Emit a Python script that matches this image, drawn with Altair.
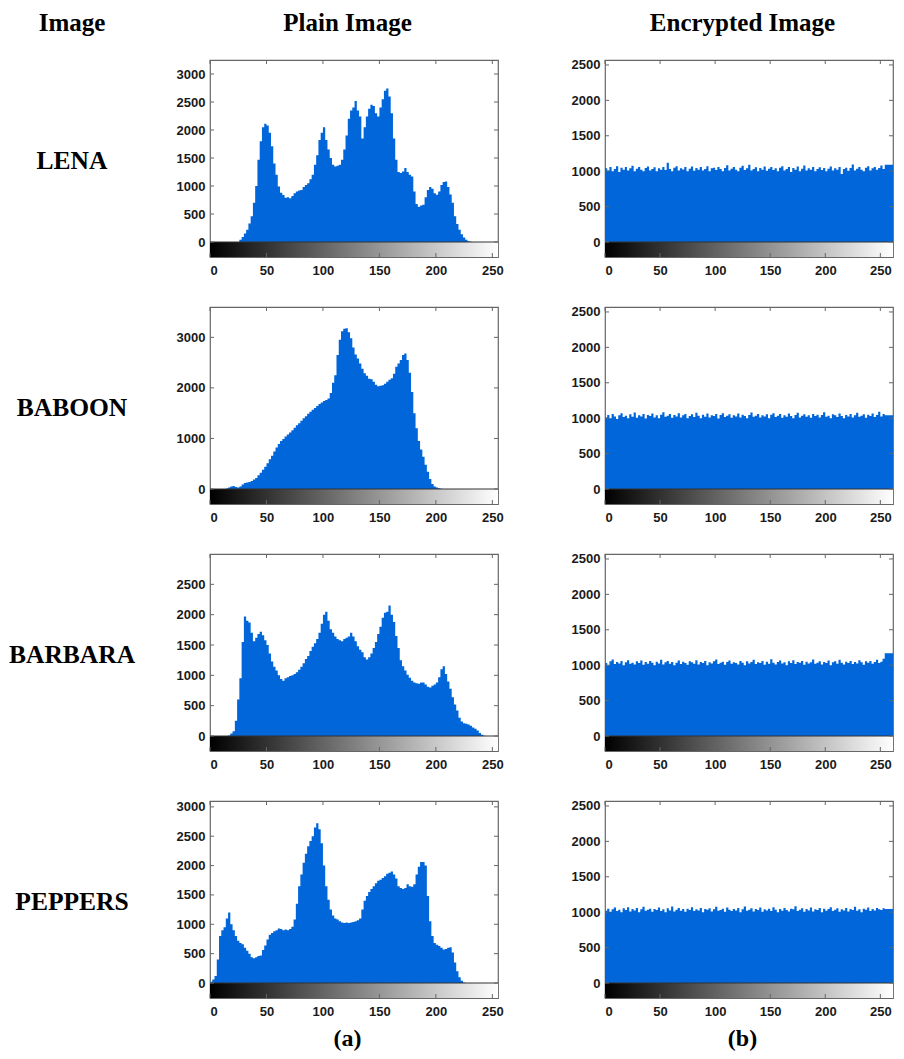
import altair as alt
import pandas as pd

NAMES = ["LENA", "BABOON", "BARBARA", "PEPPERS"]
HEADERS = ["Image", "Plain Image", "Encrypted Image"]
CAPTIONS = ["(a)", "(b)"]
X_TICKS = [0, 50, 100, 150, 200, 250]
BIN_WIDTH = 2

LENA_PLAIN = [0]*13 + [
    40, 90, 150, 220, 330, 460, 700, 1000, 1470, 1800, 2050, 2110, 2080, 1950, 1710, 1400, 1200, 990, 880, 840,
    790, 800, 780, 820, 870, 900, 920, 930, 980, 1020, 1050, 1120, 1200, 1380, 1550, 1820, 1950, 2050, 1820, 1650,
    1500, 1380, 1350, 1360, 1380, 1470, 1650, 1900, 2200, 2350, 2400, 2520, 2350, 2240, 1850, 2050, 2240, 2380, 2450, 2430,
    2300, 2240, 2400, 2550, 2700, 2740, 2600, 2300, 1850, 1470, 1250, 1230, 1260, 1320, 1250, 1200, 1170, 900, 680, 630,
    650, 665, 800, 930, 980, 950, 870, 845, 900, 1020, 1070, 1080, 980, 850, 700, 460, 320, 220, 140, 80,
    40, 15, 5] + [0]*12

BABOON_PLAIN = [0]*7 + [
    10, 30, 50, 60, 40, 30, 50, 90, 120, 130, 140, 160, 190, 220, 270, 320, 380, 440, 510, 590,
    660, 740, 820, 890, 950, 990, 1040, 1080, 1120, 1160, 1210, 1260, 1300, 1350, 1400, 1440, 1490, 1530, 1570, 1600,
    1640, 1680, 1710, 1740, 1760, 1790, 1900, 2100, 2250, 2650, 2950, 3120, 3170, 3180, 3100, 2980, 2800, 2660, 2580, 2480,
    2380, 2290, 2240, 2180, 2170, 2120, 2060, 2030, 2040, 2050, 2080, 2120, 2160, 2190, 2280, 2420, 2480, 2550, 2650, 2680,
    2550, 2300, 1920, 1500, 1200, 950, 780, 640, 480, 340, 200, 100, 50, 30, 15, 5] + [0]*25

BARBARA_PLAIN = [0]*8 + [
    10, 40, 80, 250, 600, 950, 1550, 1970, 1900, 1870, 1700, 1560, 1620, 1680, 1720, 1660, 1580, 1500, 1360, 1230,
    1140, 1080, 1000, 940, 910, 950, 970, 990, 1000, 1020, 1050, 1090, 1140, 1200, 1270, 1320, 1400, 1470, 1530, 1600,
    1700, 1850, 2000, 2050, 1900, 1760, 1700, 1640, 1600, 1580, 1560, 1600, 1620, 1640, 1700, 1640, 1560, 1480, 1420, 1380,
    1300, 1260, 1300, 1360, 1450, 1550, 1680, 1800, 1950, 2030, 2050, 2150, 2000, 1880, 1650, 1450, 1250, 1150, 1080, 1010,
    960, 910, 880, 870, 860, 880, 880, 850, 810, 800, 830, 850, 880, 970, 1100, 1150, 1020, 900, 780, 640,
    520, 420, 300, 240, 210, 200, 190, 170, 140, 120, 90, 50, 20, 5] + [0]*6

PEPPERS_PLAIN = [
    20, 60, 120, 400, 800, 900, 950, 1100, 1200, 1000, 900, 800, 720, 680, 660, 600, 550, 500, 440, 420,
    440, 460, 470, 560, 640, 740, 820, 850, 880, 900, 930, 920, 900, 910, 900, 920, 960, 1080, 1350, 1650,
    1850, 2050, 2200, 2330, 2420, 2500, 2650, 2720, 2620, 2380, 2000, 1650, 1420, 1250, 1150, 1100, 1080, 1050, 1030, 1020,
    1030, 1020, 1030, 1040, 1050, 1070, 1100, 1250, 1400, 1480, 1550, 1600, 1650, 1700, 1740, 1760, 1790, 1820, 1860, 1880,
    1900, 1850, 1780, 1650, 1620, 1600, 1620, 1680, 1650, 1640, 1680, 1850, 1980, 2060, 2060, 2000, 1480, 1050, 800, 680,
    650, 630, 600, 570, 580, 600, 610, 520, 350, 200, 100, 40, 10] + [0]*15

LENA_ENC = [
    1040, 1010, 1060, 1000, 1030, 1070, 990, 1050, 1020, 1060, 1010, 1040, 1075, 1000, 1035, 1060, 1020, 1000, 1045, 1065,
    1010, 1030, 1055, 1000, 1040, 1020, 1060, 1015, 1120, 1030, 1000, 1050, 1070, 1010, 1040, 1025, 1060, 1000, 1035, 1065,
    1005, 1045, 1020, 1060, 1010, 1030, 1070, 1000, 1040, 1050, 1015, 1060, 1030, 1000, 1045, 1085, 1010, 1035, 1060, 1020,
    1000, 1050, 1075, 1015, 1040, 1090, 1010, 1030, 1055, 1000, 1045, 1020, 1065, 1005, 1035, 1060, 1015, 1040, 1000, 1050,
    1070, 1010, 1030, 1060, 990, 1045, 1020, 1065, 1000, 1035, 1080, 1010, 1040, 1020, 1060, 1000, 1030, 1055, 1015, 1045,
    1000, 1035, 1065, 1010, 1040, 1020, 1060, 960, 1030, 1050, 1005, 1045, 1095, 1010, 1035, 1060, 1020, 1000, 1050, 1070,
    1010, 1040, 1060, 1020, 1045, 1080, 1030, 1090]

BABOON_ENC = [
    1010, 1045, 1000, 1060, 1025, 990, 1040, 1070, 1015, 1035, 1000, 1055, 1020, 1080, 1005, 1040, 1025, 1060, 995, 1045,
    1030, 1065, 1010, 1040, 1000, 1050, 1085, 1020, 1035, 1060, 1005, 1045, 1025, 1070, 1010, 1040, 1060, 1000, 1030, 1055,
    1015, 1075, 1035, 1000, 1050, 1020, 1065, 1010, 1040, 1030, 1060, 995, 1045, 1070, 1015, 1035, 1055, 1005, 1040, 1025,
    1065, 1010, 1050, 1030, 1000, 1045, 1080, 1020, 1035, 1060, 1010, 1040, 1025, 1055, 1000, 1050, 1070, 1015, 1035, 1060,
    1005, 1040, 1020, 1065, 1030, 1000, 1045, 1075, 1010, 1035, 1055, 1020, 1040, 1005, 1060, 1030, 1050, 1010, 1045, 1085,
    1020, 1035, 1000, 1055, 1040, 1015, 1065, 1030, 1000, 1045, 1025, 1060, 1010, 1040, 1075, 1020, 1035, 1055, 1005, 1050,
    1030, 1065, 1015, 1045, 1090, 1025, 1060, 1040]

BARBARA_ENC = [
    1030, 1000, 1055, 1080, 1015, 1045, 1025, 1060, 1000, 1040, 1070, 1020, 1035, 1010, 1055, 1030, 1065, 1005, 1045, 1020,
    1060, 1035, 1000, 1050, 1025, 1075, 1010, 1040, 1060, 1020, 1045, 1000, 1035, 1065, 1015, 1050, 1030, 1005, 1055, 1040,
    1020, 1070, 1010, 1045, 1030, 1060, 1000, 1040, 1025, 1055, 1080, 1015, 1035, 1050, 1005, 1045, 1065, 1020, 1040, 1030,
    1010, 1060, 1035, 1000, 1055, 1025, 1045, 1075, 1015, 1040, 1030, 1060, 1005, 1050, 1020, 1085, 1035, 1010, 1045, 1065,
    1025, 1040, 1000, 1055, 1030, 1070, 1015, 1045, 1035, 1060, 1005, 1050, 1025, 1040, 1080, 1020, 1035, 1055, 1010, 1045,
    1030, 1065, 1000, 1040, 1055, 1020, 1075, 1035, 1010, 1050, 1030, 1060, 1015, 1045, 1025, 1070, 1040, 1005, 1055, 1035,
    1060, 1020, 1045, 1075, 1030, 1050, 1090, 1170]

PEPPERS_ENC = [
    1020, 1050, 1005, 1040, 1065, 1015, 1035, 1000, 1055, 1030, 1070, 1010, 1045, 1025, 1060, 1000, 1040, 1075, 1020, 1035,
    1050, 1005, 1045, 1030, 1065, 1015, 1040, 1000, 1055, 1025, 1080, 1010, 1035, 1060, 1020, 1045, 1005, 1050, 1030, 1070,
    1015, 1040, 1025, 1060, 1000, 1045, 1035, 1055, 1010, 1040, 1075, 1020, 1030, 1050, 1005, 1065, 1035, 1015, 1045, 1025,
    1060, 1000, 1040, 1080, 1020, 1035, 1055, 1010, 1045, 1030, 1065, 1005, 1040, 1025, 1050, 1015, 1070, 1035, 1000, 1045,
    1020, 1060, 1030, 1010, 1050, 1040, 1085, 1015, 1035, 1055, 1005, 1045, 1025, 1065, 1010, 1040, 1030, 1060, 1000, 1050,
    1020, 1045, 1070, 1015, 1035, 1055, 1005, 1040, 1025, 1060, 1010, 1045, 1030, 1075, 1020, 1040, 1000, 1050, 1035, 1065,
    1015, 1045, 1025, 1060, 1040, 1030, 1055, 1045]

PLAIN = [LENA_PLAIN, BABOON_PLAIN, BARBARA_PLAIN, PEPPERS_PLAIN]
ENC = [LENA_ENC, BABOON_ENC, BARBARA_ENC, PEPPERS_ENC]
PLAIN_YMAX = [3250, 3600, 3000, 3100]
PLAIN_YTICKS = [
    [0, 500, 1000, 1500, 2000, 2500, 3000],
    [0, 1000, 2000, 3000],
    [0, 500, 1000, 1500, 2000, 2500],
    [0, 500, 1000, 1500, 2000, 2500, 3000],
]
ENC_YMAX = 2570
ENC_YTICKS = [0, 500, 1000, 1500, 2000, 2500]
PLAIN_XMAX = 255
ENC_XMAX = 261.5

BLUE = "#0066d9"
FRAME = "#666666"
W, H, HIST_H = 288, 197, 182
W0 = 94.5
SERIF = "Liberation Serif"
SANS = "Liberation Sans"

for arr in PLAIN + ENC:
    assert len(arr) == 128, len(arr)


def panel(values, ymax, yticks, xmax):
    ymin = -ymax * (H - HIST_H) / HIST_H
    xs = [i * BIN_WIDTH for i in range(len(values))] + [xmax]
    ys = list(values) + [values[-1]]
    df = pd.DataFrame({"x": xs, "y": ys})
    xscale = alt.Scale(domain=[0, xmax], nice=False, zero=False)
    yscale = alt.Scale(domain=[ymin, ymax], nice=False, zero=False)
    lab = dict(labelFont=SANS, labelFontWeight="bold", labelFontSize=13,
               labelColor="#1a1a1a", ticks=False, domain=False, grid=False,
               title="", format="d")
    hist = alt.Chart(df).mark_area(interpolate="step-after", color=BLUE, clip=True).encode(
        x=alt.X("x:Q", scale=xscale, axis=alt.Axis(values=X_TICKS, labelPadding=7, **lab)),
        y=alt.Y("y:Q", scale=yscale, axis=alt.Axis(values=yticks, labelPadding=5, **lab)),
        y2=alt.datum(0),
    )
    grad = alt.LinearGradient(
        gradient="linear", x1=0, x2=1, y1=0, y2=0,
        stops=[alt.GradientStop(color="#000000", offset=0),
               alt.GradientStop(color="#ffffff", offset=1)],
    )
    one = pd.DataFrame({"a": [0]})
    cbar = alt.Chart(one).mark_rect(color=grad).encode(
        x=alt.XDatum(0, axis=None), x2=alt.datum(xmax),
        y=alt.YDatum(ymin, axis=None), y2=alt.datum(0),
    )
    zero = alt.Chart(one).mark_rule(color="#333333", strokeWidth=1).encode(
        y=alt.YDatum(0, axis=None), x=alt.value(0), x2=alt.value(W),
    )
    xt = pd.DataFrame({"x": X_TICKS})
    yt = pd.DataFrame({"y": yticks})
    top = alt.Chart(xt).mark_rule(color=FRAME).encode(
        x=alt.X("x:Q", axis=None), y=alt.value(0), y2=alt.value(4))
    bot = alt.Chart(xt).mark_rule(color=FRAME).encode(
        x=alt.X("x:Q", axis=None), y=alt.value(H - 4), y2=alt.value(H))
    left = alt.Chart(yt).mark_rule(color=FRAME).encode(
        y=alt.Y("y:Q", axis=None), x=alt.value(0), x2=alt.value(4))
    right = alt.Chart(yt).mark_rule(color=FRAME).encode(
        y=alt.Y("y:Q", axis=None), x=alt.value(W - 4), x2=alt.value(W))
    return alt.layer(hist, cbar, zero, top, bot, left, right).resolve_axis(
        x="independent", y="independent"
    ).properties(
        width=W, height=H,
        view=alt.ViewBackground(stroke=FRAME, strokeWidth=1.2),
    )


def text_cell(text, w, h, x, y, size):
    return alt.Chart(pd.DataFrame({"t": [text]})).mark_text(
        font=SERIF, fontWeight="bold", fontSize=size, color="#000000",
        align="center", baseline="alphabetic",
    ).encode(text="t:N", x=alt.value(x), y=alt.value(y)).properties(width=w, height=h)


cells = [
    text_cell(HEADERS[0], W0, 2, 64, 23, 25),
    text_cell(HEADERS[1], W, 2, 137.5, 23, 25),
    text_cell(HEADERS[2], W, 2, 137.5, 23, 25),
]
for i, name in enumerate(NAMES):
    cells.append(text_cell(name, W0, H, 64, 109, 25.5))
    cells.append(panel(PLAIN[i], PLAIN_YMAX[i], PLAIN_YTICKS[i], PLAIN_XMAX))
    cells.append(panel(ENC[i], ENC_YMAX, ENC_YTICKS, ENC_XMAX))
cells += [
    text_cell("", W0, 2, 64, -2, 24),
    text_cell(CAPTIONS[0], W, 2, 137.5, -2, 24),
    text_cell(CAPTIONS[1], W, 2, 137.5, -2, 24),
]

chart = alt.concat(*cells, columns=3, spacing={"row": 50, "column": 107}, bounds="flush").properties(
    padding=0
).configure_view(strokeWidth=0)

chart.save("out.html", embed_options={"renderer": "svg", "actions": False})
